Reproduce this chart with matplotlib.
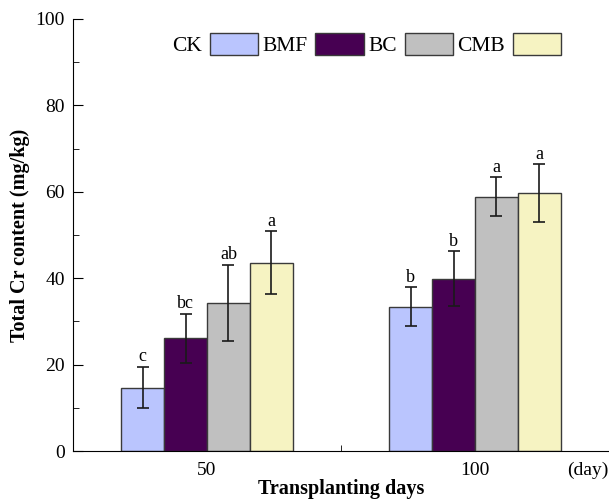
import numpy as np
import matplotlib.pyplot as plt
from matplotlib.ticker import MultipleLocator, FixedLocator

plt.rcParams['font.family'] = ['Liberation Serif', 'DejaVu Serif']

# data
days = ['50', '100']
treatments = ['CK', 'BMF', 'BC', 'CMB']
means = {
    'CK':  [14.7, 33.4],
    'BMF': [26.1, 39.9],
    'BC':  [34.3, 58.9],
    'CMB': [43.6, 59.7],
}
errs = {
    'CK':  [4.8, 4.5],
    'BMF': [5.7, 6.4],
    'BC':  [8.8, 4.5],
    'CMB': [7.3, 6.7],
}
letters = {
    'CK':  ['c', 'b'],
    'BMF': ['bc', 'b'],
    'BC':  ['ab', 'a'],
    'CMB': ['a', 'a'],
}
colors = ['#BAC5FE', '#470052', '#C0C0C0', '#F6F3C2']

fig = plt.figure(figsize=(6.09, 4.99), dpi=100)
ax = fig.add_axes([0.12, 0.096, 0.88, 0.866])

x = np.arange(len(days))
w = 0.16
for i, t in enumerate(treatments):
    pos = x + (i - 1.5) * w
    ax.bar(pos, means[t], width=w, color=colors[i], edgecolor='#3a3a3a',
           linewidth=1.0, label=t, zorder=2)
    ax.errorbar(pos, means[t], yerr=errs[t], fmt='none', ecolor='#1a1a1a',
                elinewidth=1.2, capsize=4, capthick=1.2, zorder=3)
    for px, m, e, s in zip(pos, means[t], errs[t], letters[t]):
        ax.annotate(s, (px, m + e), xytext=(0, 1), textcoords='offset points',
                    ha='center', va='bottom', fontsize=13)

ax.set_xlim(-0.5, 1.5)
ax.set_ylim(0, 100)
ax.spines['top'].set_visible(False)
ax.spines['right'].set_visible(False)

ax.set_xticks(x)
ax.set_xticklabels(days)
ax.xaxis.set_minor_locator(FixedLocator([0.5, 1.5]))
ax.tick_params(axis='x', which='major', length=0, pad=8, labelsize=14)
ax.tick_params(axis='x', which='minor', direction='in', length=4)

ax.yaxis.set_major_locator(MultipleLocator(20))
ax.yaxis.set_minor_locator(MultipleLocator(10))
ax.tick_params(axis='y', which='major', direction='in', length=7, labelsize=14, pad=6)
ax.tick_params(axis='y', which='minor', direction='in', length=4)

ax.set_xlabel('Transplanting days', fontsize=14.5, fontweight='bold', labelpad=0)
ax.set_ylabel('Total Cr content (mg/kg)', fontsize=14.5, fontweight='bold', labelpad=4)
ax.text(0.96, -0.025, '(day)', transform=ax.transAxes, ha='center', va='top', fontsize=14)

ax.legend(ncol=4, loc='center left', bbox_to_anchor=(0.185, 0.941), frameon=False,
          markerfirst=False, fontsize=15.5, handlelength=2.25, handleheight=1.2,
          handletextpad=0.36, columnspacing=0.2, borderaxespad=0, borderpad=0)

fig.savefig('out.png', dpi=100)
